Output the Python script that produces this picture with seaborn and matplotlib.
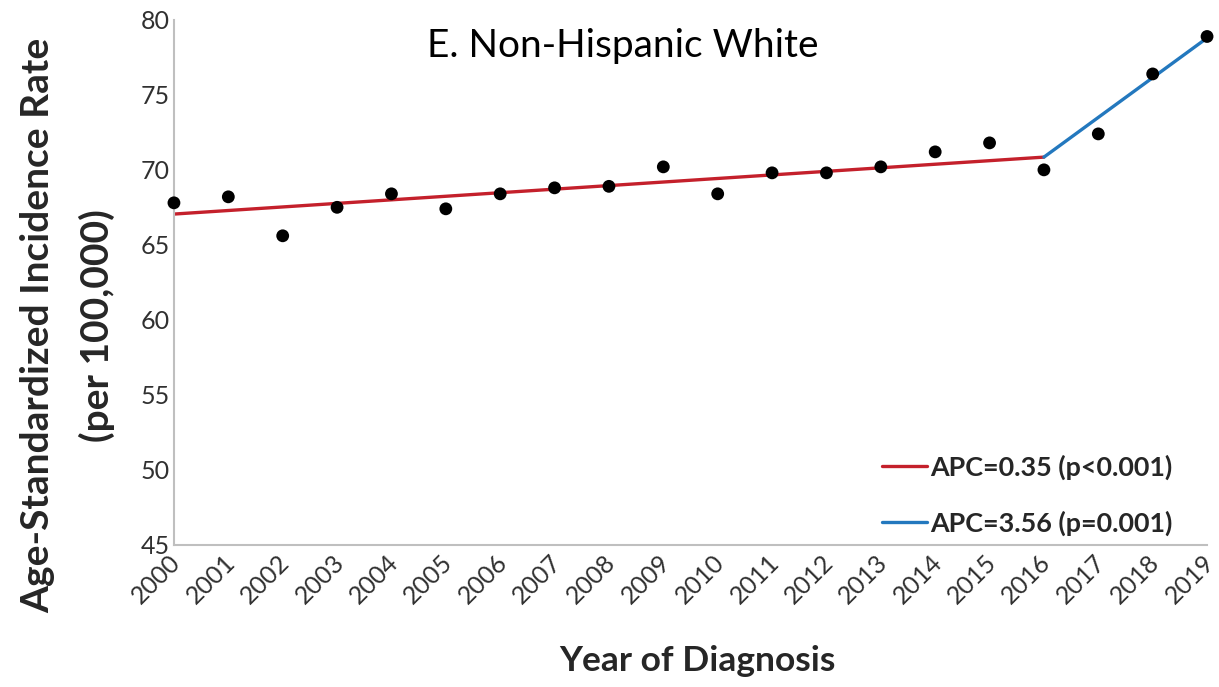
import matplotlib
matplotlib.use("Agg")
import matplotlib.pyplot as plt
import matplotlib.transforms as mtransforms
import seaborn as sns
import pandas as pd

# Observed age-standardized incidence rates (per 100,000)
years = [2000, 2001, 2002, 2003, 2004, 2005, 2006, 2007, 2008, 2009,
         2010, 2011, 2012, 2013, 2014, 2015, 2016, 2017, 2018, 2019]
rates = [67.8, 68.2, 65.6, 67.5, 68.4, 67.4, 68.4, 68.8, 68.9, 70.2,
         68.4, 69.8, 69.8, 70.2, 71.2, 71.8, 70.0, 72.4, 76.4, 78.9]

# Joinpoint trend segments (endpoints of fitted lines)
seg1_years = [2000, 2016]
seg1_fit = [67.05, 70.85]
seg2_years = [2016, 2019]
seg2_fit = [70.85, 78.8]

seg1_label = "APC=0.35 (p<0.001)"
seg2_label = "APC=3.56 (p=0.001)"
title = "E. Non-Hispanic White"
y_ticks = [45, 50, 55, 60, 65, 70, 75, 80]

sns.set_theme(style="white")
plt.rcParams["font.family"] = ["Lato", "DejaVu Sans"]

RED = "#C4202B"
BLUE = "#2378BE"
SPINE = "#BFBFBF"
TICK = "#303030"

obs = pd.DataFrame({"year": years, "rate": rates})
fit1 = pd.DataFrame({"year": seg1_years, "rate": seg1_fit})
fit2 = pd.DataFrame({"year": seg2_years, "rate": seg2_fit})

fig = plt.figure(figsize=(12.19, 6.87), dpi=100)
ax = fig.add_axes([0.1427, 0.2074, 0.8475, 0.7635])

sns.lineplot(data=fit1, x="year", y="rate", ax=ax, color=RED, linewidth=2.4,
             label=seg1_label, zorder=2)
sns.lineplot(data=fit2, x="year", y="rate", ax=ax, color=BLUE, linewidth=2.4,
             label=seg2_label, zorder=2)
sns.scatterplot(data=obs, x="year", y="rate", ax=ax, color="black", s=85,
                edgecolor="none", zorder=3, clip_on=False, legend=False)

ax.set_xlim(2000, 2019)
ax.set_ylim(45, 80)
ax.set_xticks(years)
ax.set_xticklabels([str(y) for y in years], rotation=45, ha="right",
                   rotation_mode="anchor", fontsize=18, color=TICK)
ax.set_yticks(y_ticks)
ax.set_yticklabels([str(v) for v in y_ticks], fontsize=18, color=TICK)
ax.tick_params(axis="both", length=0)
ax.tick_params(axis="y", pad=3)
ax.tick_params(axis="x", pad=4)

# pull the rotated year labels a little left so the last one stays on canvas
shift = mtransforms.ScaledTranslation(-5 / 100, 0, fig.dpi_scale_trans)
for lab in ax.get_xticklabels():
    lab.set_transform(lab.get_transform() + shift)

for side in ("top", "right"):
    ax.spines[side].set_visible(False)
for side in ("left", "bottom"):
    ax.spines[side].set_color(SPINE)
    ax.spines[side].set_linewidth(1.5)

ax.set_xlabel("Year of Diagnosis", fontsize=25.5, fontweight="bold")
ax.xaxis.set_label_coords(0.507, -0.223)
ax.xaxis.label.set_va("center")
ax.set_ylabel("Age-Standardized Incidence Rate\n(per 100,000)", fontsize=28,
              fontweight="bold", linespacing=1.8)
ax.yaxis.set_label_coords(-0.057, 0.417)

ax.text(0.434, 0.95, title, transform=ax.transAxes, ha="center", va="center",
        fontsize=28, color="black")

leg = ax.legend(loc="lower right", bbox_to_anchor=(0.99, -0.03), frameon=False,
                fontsize=19.4, handlelength=1.7, handletextpad=0.1,
                labelspacing=1.15)
for t in leg.get_texts():
    t.set_fontweight("bold")

fig.savefig("out.png", dpi=100)
